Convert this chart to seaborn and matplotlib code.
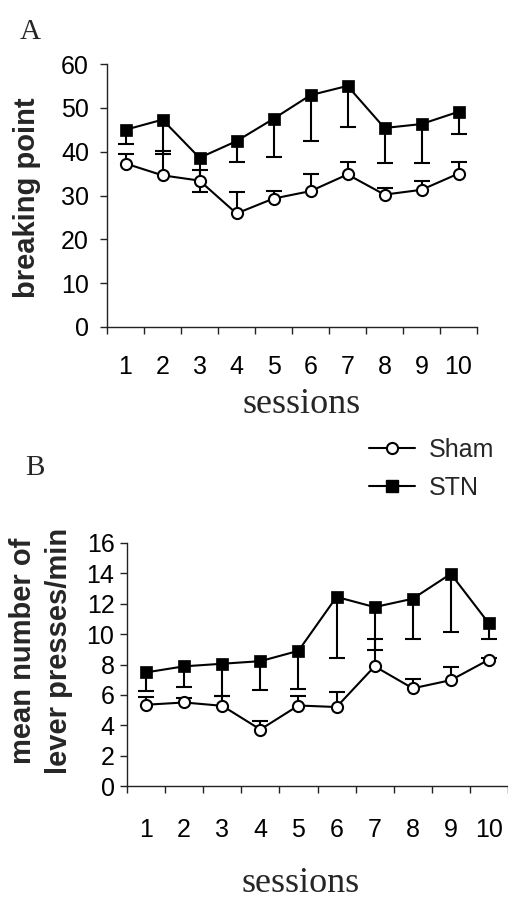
import numpy as np
import pandas as pd
import matplotlib
matplotlib.use("Agg")
import matplotlib.pyplot as plt
from matplotlib.lines import Line2D
import seaborn as sns

# ---------------- data ----------------
sessions = [1, 2, 3, 4, 5, 6, 7, 8, 9, 10]
session_labels = ["1", "2", "3", "4", "5", "6", "7", "8", "9", "10"]
groups = ["Sham", "STN"]

# Panel A: breaking point
a_sham = [37.3, 34.6, 33.4, 25.9, 29.3, 31.0, 34.8, 30.2, 31.3, 35.0]
a_sham_hi = [39.4, 40.2, 35.9, 30.8, 31.1, 34.9, 37.7, 31.7, 33.3, 37.6]
a_stn = [45.0, 47.3, 38.6, 42.4, 47.5, 52.9, 55.0, 45.4, 46.3, 49.1]
a_stn_lo = [41.7, 39.4, 30.9, 37.7, 38.7, 42.4, 45.7, 37.4, 37.5, 44.1]

# Panel B: mean number of lever presses/min
b_sham = [5.35, 5.5, 5.28, 3.72, 5.3, 5.2, 7.88, 6.43, 6.97, 8.32]
b_sham_hi = [5.88, 5.77, 5.9, 4.28, 5.92, 6.2, 9.65, 7.03, 7.82, 8.42]
b_stn = [7.48, 7.88, 8.05, 8.22, 8.9, 12.45, 11.78, 12.33, 13.97, 10.7]
b_stn_lo = [6.27, 6.52, 5.9, 6.35, 6.37, 8.45, 8.98, 9.65, 10.12, 9.68]

ytick_a = [0, 10, 20, 30, 40, 50, 60]
ytick_b = [0, 2, 4, 6, 8, 10, 12, 14, 16]

# ---------------- style ----------------
sns.set_theme(style="ticks")
plt.rcParams["font.family"] = ["Liberation Sans", "DejaVu Sans"]
SERIF = ["Liberation Serif", "DejaVu Serif"]

W, H = 508, 902
fig = plt.figure(figsize=(W / 100, H / 100), dpi=100)

axA = fig.add_axes([107 / W, 1 - 327 / H, 370 / W, 263 / H])
axB = fig.add_axes([127 / W, 1 - 786 / H, 381 / W, 243 / H])

LW = 1.5
AXC = "#222222"
TICKFS = 18


def draw_panel(ax, sham, sham_hi, stn, stn_lo, yticks, ylim, xmax, ytick_pad, xlab_pad):
    x = np.array(sessions, dtype=float)
    sham = np.array(sham); sham_hi = np.array(sham_hi)
    stn = np.array(stn); stn_lo = np.array(stn_lo)

    # one-sided error bars: stems and caps
    ax.vlines(x, sham, sham_hi, color="black", lw=LW, zorder=1)
    ax.vlines(x, stn_lo, stn, color="black", lw=LW, zorder=1)
    ax.plot(x, sham_hi, ls="none", marker="_", ms=11, mew=LW, color="black", zorder=1)
    ax.plot(x, stn_lo, ls="none", marker="_", ms=11, mew=LW, color="black", zorder=1)

    df_sham = pd.DataFrame({"session": x, "value": sham})
    df_stn = pd.DataFrame({"session": x, "value": stn})
    sns.lineplot(data=df_sham, x="session", y="value", ax=ax, color="black",
                 lw=LW, marker="o", markersize=8, markerfacecolor="white",
                 markeredgecolor="black", markeredgewidth=LW, zorder=3)
    sns.lineplot(data=df_stn, x="session", y="value", ax=ax, color="black",
                 lw=LW, marker="s", markersize=8.5, markerfacecolor="black",
                 markeredgecolor="black", markeredgewidth=0.5, zorder=4)

    ax.set_xlim(0.5, xmax)
    ax.set_ylim(*ylim)
    ax.set_xticks(np.arange(0.5, 11.0, 1.0))
    ax.set_xticklabels([])
    ax.set_xticks(sessions, minor=True)
    ax.set_xticklabels(session_labels, minor=True)
    ax.tick_params(axis="x", which="major", direction="out", length=5, width=1.0, color=AXC)
    ax.tick_params(axis="x", which="minor", length=0, pad=xlab_pad, labelsize=TICKFS, labelcolor="black")
    ax.set_yticks(yticks)
    ax.set_yticklabels([str(v) for v in yticks])
    ax.tick_params(axis="y", direction="out", length=5, width=1.0, color=AXC,
                   pad=ytick_pad, labelsize=TICKFS, labelcolor="black")
    for s in ["top", "right"]:
        ax.spines[s].set_visible(False)
    for s in ["left", "bottom"]:
        ax.spines[s].set_color(AXC)
        ax.spines[s].set_linewidth(1.0)
    ax.set_xlabel("")
    ax.set_ylabel("")
    ax.set_facecolor("white")


draw_panel(axA, a_sham, a_sham_hi, a_stn, a_stn_lo, ytick_a, (0, 60), 10.5, 8, 20)
draw_panel(axB, b_sham, b_sham_hi, b_stn, b_stn_lo, ytick_b, (0, 16), 10.47, 4, 23)

# panel letters
fig.text(20 / W, 1 - 39 / H, "A", family=SERIF, fontsize=21, ha="left", va="baseline")
fig.text(25 / W, 1 - 475 / H, "B", family=SERIF, fontsize=21, ha="left", va="baseline")

# x labels
fig.text(302 / W, 1 - 413 / H, "sessions", family=SERIF, fontsize=26, ha="center", va="baseline")
fig.text(301 / W, 1 - 892 / H, "sessions", family=SERIF, fontsize=26, ha="center", va="baseline")

# y labels
fig.text(27 / W, 1 - 198 / H, "breaking point", fontsize=21, fontweight="bold",
         rotation=90, ha="center", va="center")
fig.text(41 / W, 1 - 651 / H, "mean number of\nlever presses/min", fontsize=21,
         fontweight="bold", rotation=90, ha="center", va="center",
         multialignment="center", linespacing=1.35)

# legend
handles = [
    Line2D([], [], color="black", lw=LW, marker="o", markersize=8,
           markerfacecolor="white", markeredgecolor="black", markeredgewidth=LW),
    Line2D([], [], color="black", lw=LW, marker="s", markersize=8.5,
           markerfacecolor="black", markeredgecolor="black"),
]
fig.legend(handles, groups, loc="upper left", bbox_to_anchor=(369 / W, 1 - 438 / H),
           frameon=False, fontsize=18, handlelength=1.85, handletextpad=0.55,
           labelspacing=0.55, borderaxespad=0, borderpad=0)

fig.savefig("out.png", dpi=100, facecolor="white")
